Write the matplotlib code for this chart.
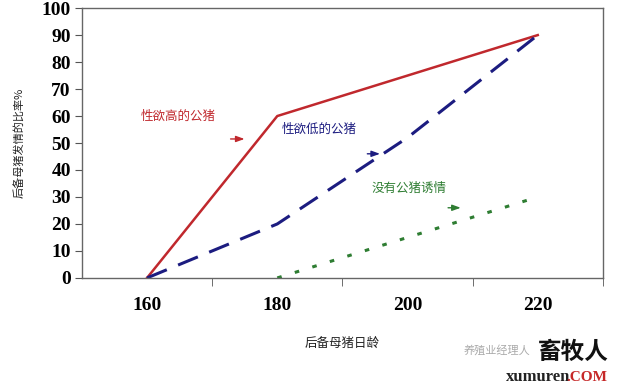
import matplotlib
matplotlib.use('Agg')
import matplotlib.pyplot as plt
import numpy as np

plt.rcParams['font.family'] = ['Noto Sans CJK SC', 'DejaVu Sans']

days = ['160', '180', '200', '220']
high_boar = [0, 60, 75, 90]
low_boar = [0, 20, 52, 90]
no_boar_days = ['180', '200', '220']
no_boar = [0, 15, 30]
yticks = [0, 10, 20, 30, 40, 50, 60, 70, 80, 90, 100]

fig = plt.figure(figsize=(6.4, 3.86), dpi=100)
ax = fig.add_axes([0.128, 0.28, 0.814, 0.699])

x = np.arange(len(days))
x_no = np.array([days.index(d) for d in no_boar_days])

ax.plot(x, high_boar, color='#c0282d', lw=1.8)
ax.plot(x, low_boar, color='#1c1c80', lw=2.2, dashes=(7, 4))
ax.plot(x_no, no_boar, color='#2e7d32', lw=2.2, dashes=(1.5, 4.5))

ax.set_xlim(-0.5, 3.5)
ax.set_ylim(0, 100)
ax.set_xticks(x)
ax.set_xticklabels(days)
ax.set_xticks(np.arange(0.5, 3.6, 1), minor=True)
ax.tick_params(axis='x', which='major', length=0, pad=14)
ax.tick_params(axis='x', which='minor', length=6, color='#555555')
ax.set_yticks(yticks)
ax.tick_params(axis='y', length=5, color='#555555', pad=3)
for lab in ax.get_xticklabels() + ax.get_yticklabels():
    lab.set_family('Liberation Serif')
    lab.set_fontweight('bold')
    lab.set_fontsize(14)
for s in ax.spines.values():
    s.set_color('#666666')
    s.set_linewidth(1.0)

ax.set_xlabel('后备母猪日龄', fontsize=9, labelpad=16, color='#222222')
ax.set_ylabel('后备母猪发情的比率%', fontsize=8, labelpad=12, color='#222222')

arrow = dict(arrowstyle='-|>,head_length=0.5,head_width=0.18', lw=1)
ax.text(-0.05, 60, '性欲高的公猪', color='#c0282d', fontsize=9, va='center')
ax.annotate('', xy=(0.77, 51.5), xytext=(0.62, 51.5),
            arrowprops=dict(arrow, color='#c0282d'))
ax.text(1.03, 55, '性欲低的公猪', color='#1c1c80', fontsize=9, va='center')
ax.annotate('', xy=(1.81, 46), xytext=(1.67, 46),
            arrowprops=dict(arrow, color='#1c1c80'))
ax.text(1.72, 33, '没有公猪诱情', color='#2e7d32', fontsize=9, va='center')
ax.annotate('', xy=(2.43, 26), xytext=(2.29, 26),
            arrowprops=dict(arrow, color='#2e7d32'))

# watermark
fig.text(0.725, 0.085, '养殖业经理人', fontsize=8, color='#aaaaaa')
fig.text(0.84, 0.07, '畜牧人', fontsize=17, fontweight='bold', color='#111111')
fig.text(0.79, 0.012, 'xumuren', fontsize=12, fontweight='bold',
         color='#222222', family='Liberation Serif')
fig.text(0.885, 0.012, '.COM', fontsize=11, fontweight='bold',
         color='#c62828', family='Liberation Serif')

fig.savefig('out.png', dpi=100)
